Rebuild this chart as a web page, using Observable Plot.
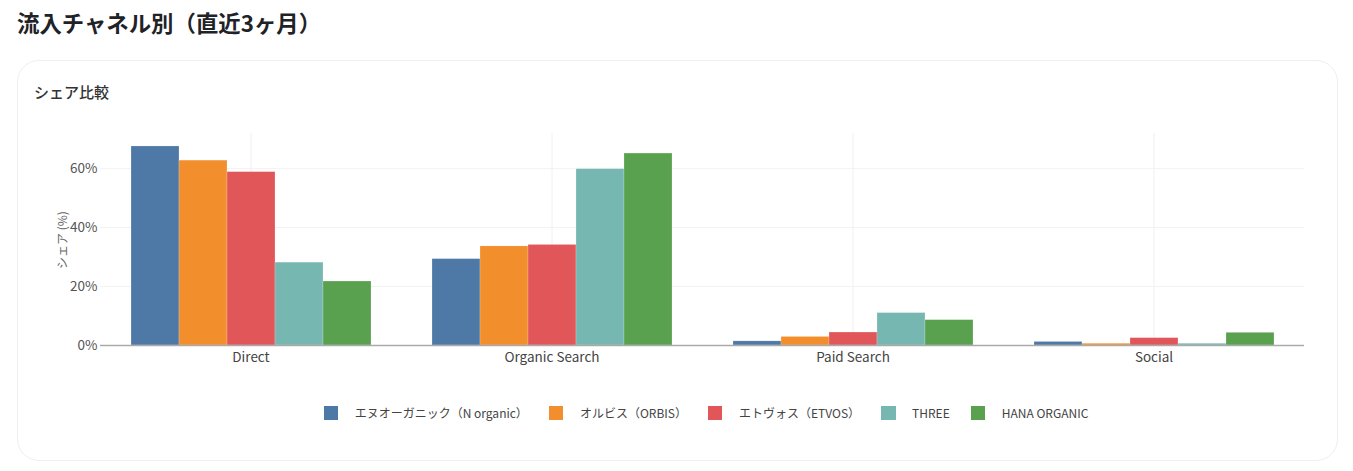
<!DOCTYPE html>
<html><head><meta charset="utf-8">
<script src="https://cdn.jsdelivr.net/npm/d3@7"></script>
<script src="https://cdn.jsdelivr.net/npm/@observablehq/plot@0.6"></script>
<style>
html,body{margin:0;padding:0;background:#fff;}
body{width:1353px;height:471px;position:relative;overflow:hidden;font-family:"Noto Sans CJK JP","Noto Sans",sans-serif;}
#title{position:absolute;left:17px;top:7px;font-size:22.4px;font-weight:700;color:#1f2328;line-height:30px;}
#card{position:absolute;left:17px;top:60px;width:1319px;height:399px;border:1px solid #eceff3;border-radius:22px;}
#sub{position:absolute;left:34px;top:81px;font-size:15px;font-weight:500;color:#333;line-height:22px;}
#chart{position:absolute;left:0;top:110px;}
#ylabel{position:absolute;left:61px;top:240px;transform:translate(-50%,-50%) rotate(-90deg);font-size:12px;color:#666;white-space:nowrap;}
#legend{position:absolute;left:100px;width:1204px;top:404px;display:flex;justify-content:center;gap:21px;padding-left:8px;box-sizing:border-box;font-size:12px;color:#444;line-height:18px;}
.item{display:flex;align-items:center;}
.sw{width:14.5px;height:14.5px;margin-right:16.5px;}
</style>
</head><body>
<div id="title">流入チャネル別（直近3ヶ月）</div>
<div id="card"></div>
<div id="sub">シェア比較</div>
<div id="chart"></div>
<div id="ylabel">シェア (%)</div>
<div id="legend"></div>
<script>
const channels = ["Direct", "Organic Search", "Paid Search", "Social"];
const brands = ["エヌオーガニック（N organic）", "オルビス（ORBIS）", "エトヴォス（ETVOS）", "THREE", "HANA ORGANIC"];
const brandColors = ["#4e79a7", "#f28e2b", "#e15759", "#76b7b2", "#59a14f"];
const shareDirect = [67.5, 62.7, 58.8, 28.1, 21.7];
const shareOrganic = [29.3, 33.6, 34.1, 59.8, 65.1];
const sharePaid = [1.4, 2.9, 4.4, 11.0, 8.6];
const shareSocial = [1.2, 0.6, 2.5, 0.6, 4.3];
const yTicks = [0, 20, 40, 60];

const seriesByChannel = [shareDirect, shareOrganic, sharePaid, shareSocial];
const data = channels.flatMap((c, i) => brands.map((b, j) => ({channel: c, brand: b, share: seriesByChannel[i][j]})));

const chart = Plot.plot({
  width: 1353, height: 270,
  marginLeft: 100, marginRight: 49, marginTop: 23, marginBottom: 35,
  style: {fontFamily: "'Noto Sans CJK JP', sans-serif", fontSize: "13.5px", color: "#555", background: "transparent"},
  fx: {domain: channels, padding: 0, label: null},
  x: {domain: brands, paddingInner: 0, paddingOuter: 0.625, axis: null},
  y: {domain: [0, 71.9], label: null},
  color: {domain: brands, range: brandColors},
  marks: [
    Plot.gridFx({stroke: "#edf0f4", strokeOpacity: 1}),
    Plot.gridY(yTicks.slice(1), {stroke: "#f2f2f2", strokeOpacity: 1}),
    Plot.axisY(yTicks, {tickSize: 0, tickPadding: 3, tickFormat: d => d + "%", label: null, line: true, stroke: "#eceff3", fill: "#555"}),
    Plot.axisFx({anchor: "bottom", tickSize: 0, tickPadding: 7, label: null, fill: "#444"}),
    Plot.barY(data, {fx: "channel", x: "brand", y: "share", fill: "brand", stroke: "#fff", strokeOpacity: 0.4, strokeWidth: 0.5}),
    Plot.ruleY([0], {stroke: "#aaa", strokeWidth: 1.5})
  ]
});
document.getElementById("chart").appendChild(chart);

const legend = document.getElementById("legend");
brands.forEach((b, i) => {
  const item = document.createElement("div");
  item.className = "item";
  const sw = document.createElement("div");
  sw.className = "sw";
  sw.style.background = brandColors[i];
  const t = document.createElement("span");
  t.textContent = b;
  item.appendChild(sw);
  item.appendChild(t);
  legend.appendChild(item);
});
</script>
</body></html>
